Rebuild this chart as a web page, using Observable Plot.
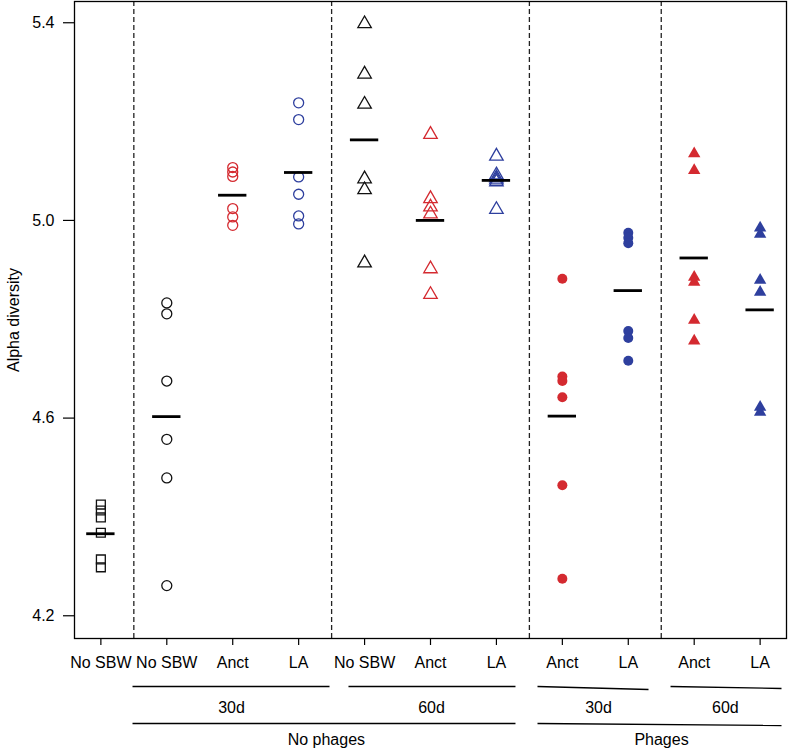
<!DOCTYPE html>
<html>
<head>
<meta charset="utf-8">
<script src="https://cdn.jsdelivr.net/npm/d3@7"></script>
<script src="https://cdn.jsdelivr.net/npm/@observablehq/plot@0.6"></script>
<style>
  html, body { margin: 0; padding: 0; background: #fff; }
  #chart { width: 788px; height: 748px; }
</style>
</head>
<body>
<div id="chart"></div>
<script>
// Category tick labels (positions 1..11 from left to right)
const categories = ["No SBW", "No SBW", "Anct", "LA", "No SBW", "Anct", "LA", "Anct", "LA", "Anct", "LA"];

// Alpha diversity values per group
const noSBW0       = [4.425, 4.413, 4.399, 4.368, 4.314, 4.298];
const noPh30NoSBW  = [4.833, 4.811, 4.675, 4.557, 4.479, 4.261];
const noPh30Anct   = [5.107, 5.098, 5.089, 5.024, 5.007, 4.990];
const noPh30LA     = [5.238, 5.204, 5.088, 5.053, 5.009, 4.993];
const noPh60NoSBW  = [5.398, 5.296, 5.235, 5.084, 5.062, 4.914];
const noPh60Anct   = [5.174, 5.044, 5.027, 5.013, 4.902, 4.850];
const noPh60LA     = [5.130, 5.092, 5.086, 5.082, 5.078, 5.022];
const ph30Anct     = [4.882, 4.684, 4.675, 4.642, 4.464, 4.275];
const ph30LA       = [4.975, 4.965, 4.954, 4.776, 4.762, 4.716];
const ph60Anct     = [5.135, 5.101, 4.885, 4.875, 4.798, 4.756];
const ph60LA       = [4.985, 4.972, 4.879, 4.855, 4.622, 4.612];

// Group mean bars
const means = [4.366, 4.603, 5.051, 5.097, 5.163, 5.000, 5.081, 4.604, 4.858, 4.924, 4.819];

// Dashed separators between sections (category positions)
const dividers = [1.5, 4.5, 7.5, 9.5];

// Bracket annotations under the axis (in category positions)
const bracketLabels1 = ["30d", "60d", "30d", "60d"];
const bracketFrom1   = [1.48, 4.756, 7.623, 9.641];
const bracketTo1     = [4.468, 7.289, 9.307, 11.324];
const bracketMid1    = [2.981, 6.015, 8.548, 10.473];
const bracketLabels2 = ["No phages", "Phages"];
const bracketFrom2   = [1.48, 7.623];
const bracketTo2     = [7.289, 11.324];
const bracketMid2    = [4.42, 9.504];

const series = [noSBW0, noPh30NoSBW, noPh30Anct, noPh30LA, noPh60NoSBW, noPh60Anct, noPh60LA,
                ph30Anct, ph30LA, ph60Anct, ph60LA];

// Styles per group
const RED = "#d42a30", BLUE = "#2e3f9e", BLACK = "#111";
const styles = [
  {symbol: "square",   color: BLACK, filled: false},
  {symbol: "circle",   color: BLACK, filled: false},
  {symbol: "circle",   color: RED,   filled: false},
  {symbol: "circle",   color: BLUE,  filled: false},
  {symbol: "triangle", color: BLACK, filled: false},
  {symbol: "triangle", color: RED,   filled: false},
  {symbol: "triangle", color: BLUE,  filled: false},
  {symbol: "circle",   color: RED,   filled: true},
  {symbol: "circle",   color: BLUE,  filled: true},
  {symbol: "triangle", color: RED,   filled: true},
  {symbol: "triangle", color: BLUE,  filled: true}
];

const yDomain = [4.154, 5.443];
const xDomain = [0.6, 11.4];
const yBottom = yDomain[0];
const pxUnit = (yDomain[1] - yDomain[0]) / 637;

const pointMarks = series.map((vals, i) => {
  const s = styles[i];
  const rows = vals.map(v => ({pos: i + 1, value: v}));
  return Plot.dot(rows, {
    x: "pos", y: "value",
    symbol: s.symbol,
    r: s.symbol === "triangle" && s.filled ? 4.6 : 5,
    stroke: s.filled ? "none" : s.color,
    fill: s.filled ? s.color : "none",
    strokeWidth: 1.3
  });
});

const meanRows = means.map((m, i) => ({pos: i + 1, value: m}));

const tilts1 = [0, 0, 3, 2];
const br1 = bracketLabels1.map((t, i) => ({t, x1: bracketFrom1[i], x2: bracketTo1[i], mid: bracketMid1[i], tilt: tilts1[i]}));
const tilts2 = [0, 2];
const br2 = bracketLabels2.map((t, i) => ({t, x1: bracketFrom2[i], x2: bracketTo2[i], mid: bracketMid2[i], tilt: tilts2[i]}));

const FS = 16;
const chart = Plot.plot({
  width: 788,
  height: 748,
  marginLeft: 74,
  marginRight: 2,
  marginTop: 1,
  marginBottom: 110,
  style: {fontFamily: "'Liberation Sans', Arial, Helvetica, sans-serif", fontSize: FS + "px", color: "#000", background: "#fff"},
  x: {domain: xDomain},
  y: {domain: yDomain},
  marks: [
    Plot.ruleX(dividers, {x: d => d, stroke: "#222", strokeWidth: 1.3, strokeDasharray: "5,3"}),
    ...pointMarks,
    Plot.ruleY(meanRows, {y: "value", x1: d => d.pos - 0.215, x2: d => d.pos + 0.215, stroke: "#000", strokeWidth: 2.8}),
    Plot.frame({stroke: "#000", strokeWidth: 1.3}),
    Plot.axisY({ticks: [4.2, 4.6, 5.0, 5.4], tickFormat: d3.format(".1f"), tickSize: 11, tickPadding: 9, fontSize: FS, label: null, strokeWidth: 1.2}),
    Plot.axisX({ticks: d3.range(1, 12), tickFormat: d => categories[d - 1], tickSize: 7, tickPadding: 11, fontSize: FS, label: null, strokeWidth: 1.2}),
    Plot.text(["Alpha diversity"], {frameAnchor: "left", dx: -61, rotate: -90, text: d => d, fontSize: FS, textAnchor: "middle", lineAnchor: "middle"}),
    Plot.link(br1, {x1: "x1", x2: "x2", y1: () => yBottom, y2: d => yBottom - d.tilt * pxUnit, dy: 48, stroke: "#000", strokeWidth: 1.3}),
    Plot.text(br1, {x: "mid", y: () => yBottom, dy: 69, text: "t", fontSize: FS, lineAnchor: "middle"}),
    Plot.link(br2, {x1: "x1", x2: "x2", y1: () => yBottom, y2: d => yBottom - d.tilt * pxUnit, dy: 85, stroke: "#000", strokeWidth: 1.3}),
    Plot.text(br2, {x: "mid", y: () => yBottom, dy: 101, text: "t", fontSize: FS, lineAnchor: "middle"})
  ]
});

document.getElementById("chart").appendChild(chart);
</script>
</body>
</html>
